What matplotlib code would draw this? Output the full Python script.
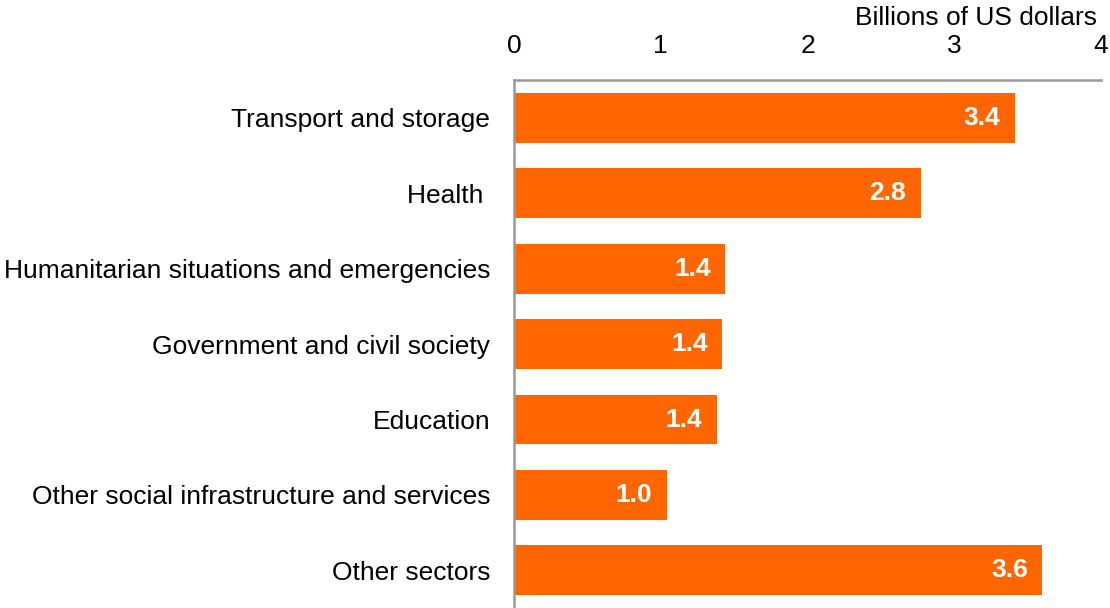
import matplotlib.pyplot as plt

plt.rcParams['font.family'] = ['Liberation Sans', 'DejaVu Sans']

categories = ['Transport and storage', 'Health ', 'Humanitarian situations and emergencies',
              'Government and civil society', 'Education',
              'Other social infrastructure and services', 'Other sectors']
values = [3.41, 2.77, 1.44, 1.42, 1.38, 1.04, 3.60]
value_labels = ['3.4', '2.8', '1.4', '1.4', '1.4', '1.0', '3.6']
x_ticks = [0, 1, 2, 3, 4]

bar_color = '#FF6600'
spine_color = '#999999'
fs = 19

fig = plt.figure(figsize=(11.1, 6.08), dpi=100)
ax = fig.add_axes([0.463, 0.0, 0.529, 0.868])

pos = list(range(len(categories)))
ax.barh(pos, values, height=0.66, color=bar_color)
for p, v, lab in zip(pos, values, value_labels):
    ax.text(v - 0.1, p, lab, ha='right', va='center', color='white',
            fontsize=fs, fontweight='bold')

ax.set_xlim(0, 4)
ax.set_ylim(6.5, -0.5)
ax.set_yticks(pos)
ax.set_yticklabels(categories, fontsize=fs)
ax.set_xticks(x_ticks)
ax.xaxis.tick_top()
ax.tick_params(axis='x', length=0, pad=16, labelsize=fs)
ax.tick_params(axis='y', length=0, pad=17)

for side in ['right', 'bottom']:
    ax.spines[side].set_visible(False)
for side in ['top', 'left']:
    ax.spines[side].set_color(spine_color)
    ax.spines[side].set_linewidth(1.8)

fig.text(0.988, 0.97, 'Billions of US dollars', ha='right', va='center', fontsize=fs)

fig.savefig('out.png', dpi=100)
